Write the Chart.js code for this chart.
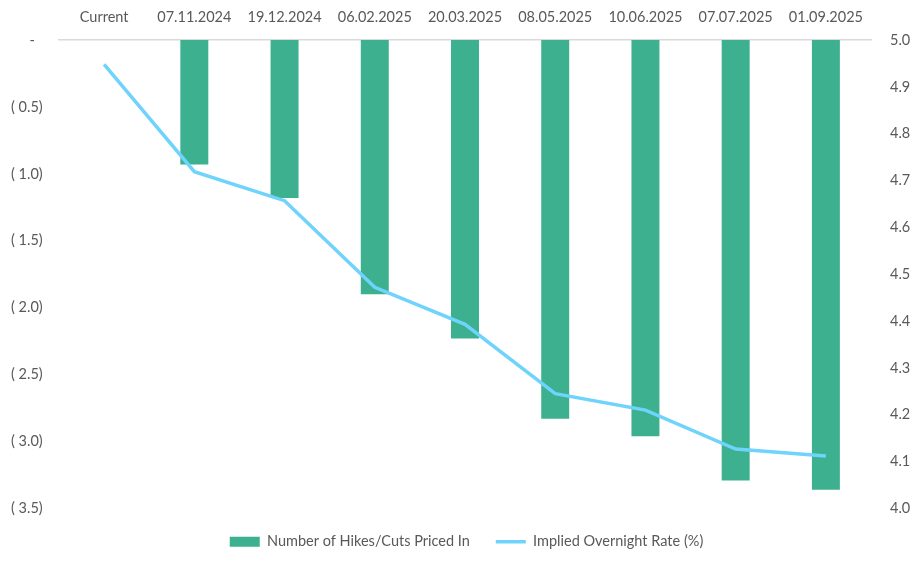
<!DOCTYPE html>
<html>
<head>
<meta charset="utf-8">
<script src="https://cdn.jsdelivr.net/npm/chart.js@4.4.1/dist/chart.umd.min.js"></script>
<style>
html,body{margin:0;padding:0;background:#fff;}
#wrap{width:922px;height:566px;position:relative;}
</style>
</head>
<body>
<div id="wrap"><canvas id="c"></canvas></div>
<script>
const categories = ["Current","07.11.2024","19.12.2024","06.02.2025","20.03.2025","08.05.2025","10.06.2025","07.07.2025","01.09.2025"];
const hikesCuts = [null,-0.93,-1.18,-1.90,-2.23,-2.83,-2.96,-3.29,-3.36];
const impliedRate = [4.948,4.719,4.657,4.472,4.393,4.245,4.210,4.127,4.112];
const leftTicks = [0,-0.5,-1.0,-1.5,-2.0,-2.5,-3.0,-3.5];
const rightTicks = [4.0,4.1,4.2,4.3,4.4,4.5,4.6,4.7,4.8,4.9,5.0];

const txt = '#595959';
const font = {family:'Lato', size:14.5};

new Chart(document.getElementById('c'), {
  data: {
    labels: categories,
    datasets: [
      {type:'line', label:'Implied Overnight Rate (%)', data: impliedRate, yAxisID:'y2',
       borderColor:'#6fd3fb', backgroundColor:'#6fd3fb', borderWidth:3.5, pointRadius:0, tension:0, order:0},
      {type:'bar', label:'Number of Hikes/Cuts Priced In', data: hikesCuts, yAxisID:'y',
       backgroundColor:'#3cb08f', borderWidth:0, barPercentage:0.31, categoryPercentage:1, order:1}
    ]
  },
  options: {
    responsive:true, maintainAspectRatio:false, animation:false,
    layout:{padding:{top:0,left:11,right:0,bottom:7}},
    plugins:{
      legend:{position:'bottom', reverse:true,
        labels:{usePointStyle:true, pointStyleWidth:30, boxHeight:10, color:txt, font:font, padding:26,
          generateLabels(chart){
            const items = Chart.defaults.plugins.legend.labels.generateLabels(chart);
            items.forEach(it=>{
              const ds = chart.data.datasets[it.datasetIndex];
              it.pointStyle = ds.type==='line' ? 'line' : 'rect';
              it.lineWidth = ds.type==='line' ? 3.5 : 0;
            });
            return items;
          }}},
      tooltip:{enabled:false}
    },
    scales:{
      x:{position:'top', grid:{display:false}, border:{display:true, color:'#d9d9d9', width:1.5},
         afterFit(s){ s.height = 40; },
         ticks:{color:txt, font:font, padding:6, maxRotation:0}},
      y:{position:'left', min:-3.5, max:0, grid:{display:false}, border:{display:false},
         afterFit(s){ s.width = 48; },
         afterBuildTicks(s){ s.ticks = leftTicks.map(v=>({value:v})); },
         ticks:{color:txt, font:font, padding:8, crossAlign:'far',
           callback(v){ return v===0 ? '     -' : '( ' + Math.abs(v).toFixed(1) + ')'; }}},
      y2:{position:'right', min:4.0, max:5.0, grid:{display:false}, border:{display:false},
         afterFit(s){ s.width = 51; },
         afterBuildTicks(s){ s.ticks = rightTicks.map(v=>({value:v})); },
         ticks:{color:txt, font:font, padding:11, callback(v){ return Number(v).toFixed(1); }}}
    }
  }
});
</script>
</body>
</html>
